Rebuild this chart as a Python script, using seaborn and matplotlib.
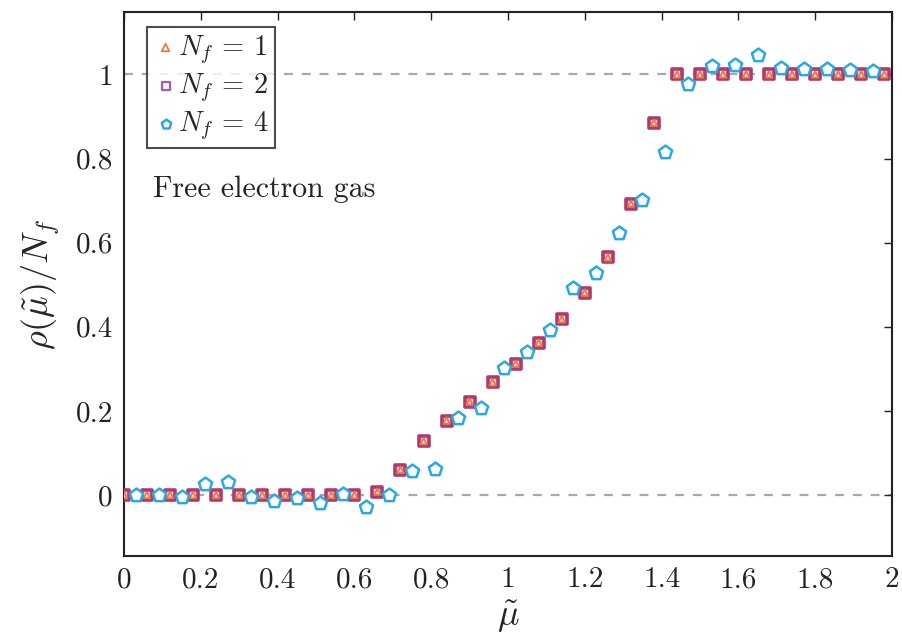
import numpy as np
import pandas as pd
import matplotlib
matplotlib.use("Agg")
import matplotlib.pyplot as plt
import seaborn as sns

# mu values: Nf=1,2 on a 0.06 grid starting at 0, Nf=4 offset by 0.03
mu_12 = np.round(np.arange(0, 2.0, 0.06), 2)
mu_4 = np.round(np.arange(0.03, 2.0, 0.06), 2)

rho_nf2 = [0.0, 0.0, 0.0, 0.0, 0.0, 0.0, 0.0, 0.0, 0.0, 0.0, 0.0, 0.008,
           0.06, 0.128, 0.177, 0.222, 0.268, 0.312, 0.362, 0.418, 0.481,
           0.565, 0.693, 0.885, 1.0, 1.0, 1.0, 1.0, 1.0, 1.0, 1.0, 1.0,
           1.0, 1.0]
rho_nf1 = list(rho_nf2)
rho_nf4 = [0.0, 0.0, -0.004, 0.027, 0.03, -0.005, -0.015, -0.006, -0.019,
           0.002, -0.028, 0.0, 0.057, 0.062, 0.183, 0.207, 0.302, 0.34,
           0.392, 0.493, 0.529, 0.624, 0.702, 0.816, 0.977, 1.02, 1.022,
           1.047, 1.015, 1.012, 1.012, 1.01, 1.008]

sns.set_theme(style="white")
plt.rcParams.update({
    "font.family": "cmr10",
    "mathtext.fontset": "cm",
    "axes.formatter.use_mathtext": True,
    "axes.unicode_minus": False,
})

fig = plt.figure(figsize=(9.03, 6.42), dpi=100)
ax = fig.add_axes([0.1373, 0.134, 0.8505, 0.847])

ax.axhline(0, color="#a8a8a8", ls=(0, (4, 4)), lw=1.6, zorder=0)
ax.axhline(1, color="#a8a8a8", ls=(0, (4, 4)), lw=1.6, zorder=0)

df2 = pd.DataFrame({"mu": mu_12, "rho": rho_nf2})
df1 = pd.DataFrame({"mu": mu_12, "rho": rho_nf1})
df4 = pd.DataFrame({"mu": mu_4, "rho": rho_nf4})

sns.scatterplot(data=df2, x="mu", y="rho", marker="s", s=62,
                facecolor="#f3d6dc", edgecolor="#b03a6c", linewidth=2.6,
                label=r"$N_f$ = 2", ax=ax, zorder=3)
sns.scatterplot(data=df1, x="mu", y="rho", marker="^", s=22,
                facecolor="none", edgecolor="#e8794a", linewidth=1.3,
                label=r"$N_f$ = 1", ax=ax, zorder=4)
sns.scatterplot(data=df4, x="mu", y="rho", marker="p", s=100,
                facecolor="white", edgecolor="#2aa8e0", linewidth=1.8,
                label=r"$N_f$ = 4", ax=ax, zorder=5)

# legend order Nf=1, 2, 4
h, l = ax.get_legend_handles_labels()
order = [1, 0, 2]
leg = ax.legend([h[i] for i in order], [l[i] for i in order],
                loc="upper left", bbox_to_anchor=(0.03, 0.972),
                fontsize=20.5, frameon=True, fancybox=False,
                handletextpad=0.0, handlelength=0.9, borderpad=0.2,
                labelspacing=0.2, borderaxespad=0)
leg.get_frame().set_edgecolor("#222222")
leg.get_frame().set_linewidth(1.5)
leg.legend_handles[0].set_sizes([30])
leg.legend_handles[1].set_sizes([40])
leg.legend_handles[1].set_facecolor("white")
leg.legend_handles[1].set_edgecolor("#a060a8")
leg.legend_handles[1].set_linewidth(1.6)
leg.legend_handles[2].set_sizes([50])

ax.text(0.038, 0.66, "Free electron gas", transform=ax.transAxes,
        fontsize=21.5, color="#222222")

ax.set_xlim(0, 2)
ax.set_ylim(-0.145, 1.148)
ax.set_xticks(np.arange(0, 2.01, 0.2))
ax.set_xticklabels(["0", "0.2", "0.4", "0.6", "0.8", "1", "1.2", "1.4",
                    "1.6", "1.8", "2"])
ax.set_yticks(np.arange(0, 1.01, 0.2))
ax.set_yticklabels(["0", "0.2", "0.4", "0.6", "0.8", "1"])
ax.tick_params(direction="in", length=6, width=1, top=True, right=True,
               labelsize=21, colors="#222222", pad=8)
for s in ax.spines.values():
    s.set_linewidth(1.5)
    s.set_color("#222222")

ax.set_xlabel(r"$\tilde{\mu}$", fontsize=26, labelpad=4)
ax.set_ylabel(r"$\rho(\tilde{\mu})/N_f$", fontsize=26, labelpad=10)

fig.savefig("out.png", dpi=100)
